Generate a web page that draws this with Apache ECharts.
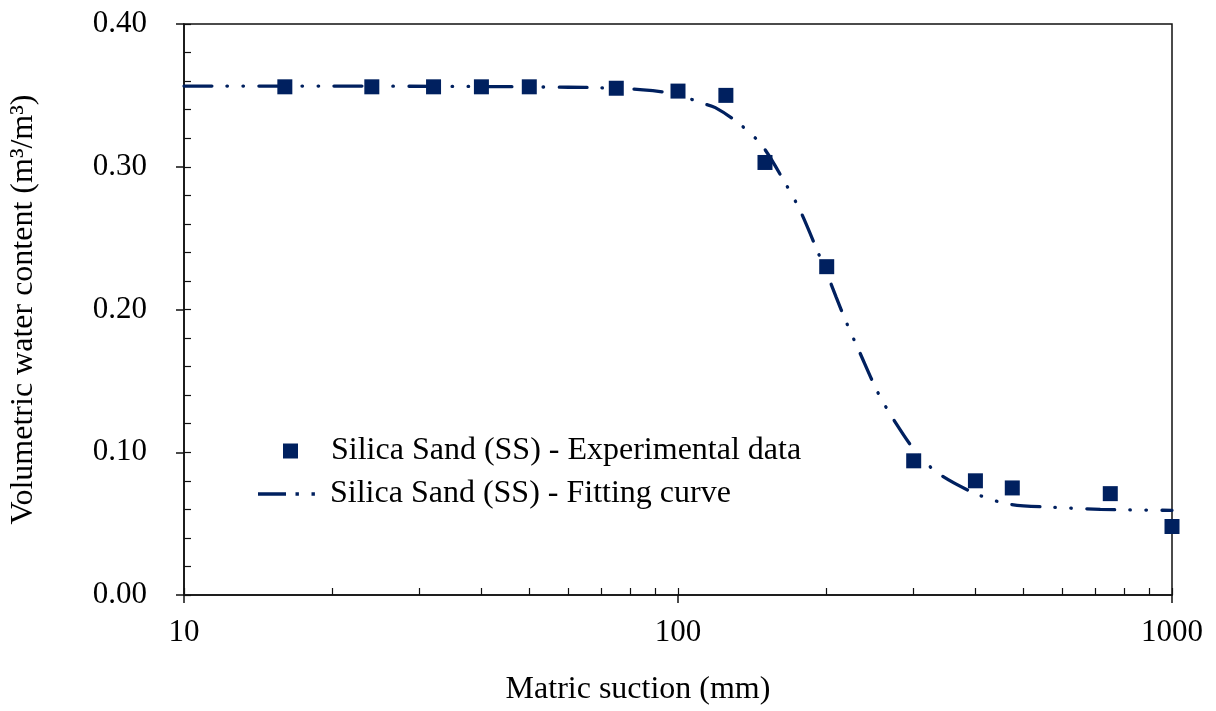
<!DOCTYPE html>
<html>
<head>
<meta charset="utf-8">
<script src="https://cdn.jsdelivr.net/npm/echarts@6/dist/echarts.min.js"></script>
<style>
html,body{margin:0;padding:0;background:#fff;}
#chart{width:1216px;height:711px;}
</style>
</head>
<body>
<div id="chart"></div>
<script>
// ---- data ----
const expName = 'Silica Sand (SS) - Experimental data';
const fitName = 'Silica Sand (SS) - Fitting curve';
const expSuction = [16, 24, 32, 40, 50, 75, 100, 125, 150, 200, 300, 400, 475, 750, 1000];
const expTheta   = [0.356, 0.356, 0.356, 0.356, 0.356, 0.355, 0.353, 0.350, 0.303, 0.230, 0.094, 0.080, 0.075, 0.071, 0.048];
const fitSuction = [10, 20, 40, 60, 70, 85, 95, 103, 111, 119, 133, 148, 165, 177, 192, 203, 209, 219, 233, 254, 274, 306, 341, 408, 471, 578, 716, 1000];
const fitTheta   = [0.3565, 0.3565, 0.3562, 0.3557, 0.3553, 0.3539, 0.352, 0.349, 0.3449, 0.3414, 0.3302, 0.3148, 0.2883, 0.2688, 0.2401, 0.2199, 0.2087, 0.1913, 0.1703, 0.1417, 0.1222, 0.0984, 0.0838, 0.0698, 0.0635, 0.0614, 0.0600, 0.0593];
const xMajorTicks = [10, 100, 1000];
const xMinorTicks = [20, 30, 40, 50, 60, 70, 80, 90, 200, 300, 400, 500, 600, 700, 800, 900];

const navy = '#00205F';
const font = 'Liberation Serif';

const expData = expSuction.map((x, i) => [x, expTheta[i]]);
const fitData = fitSuction.map((x, i) => [x, fitTheta[i]]);
const minorLogPos = xMajorTicks.concat(xMinorTicks).map(v => Math.log10(v));

// legend glyph for the dash-dot-dot line
const fitIcon = 'path://M0,0M57,14M0,5.3h28v3.4h-28zM37.5,5.3h3.4v3.4h-3.4zM53.5,5.3h3.4v3.4h-3.4z';

const chart = echarts.init(document.getElementById('chart'));
chart.setOption({
  animation: false,
  backgroundColor: '#fff',
  grid: {left: 180, right: 44, top: 24, bottom: 115, show: true, borderColor: '#111', borderWidth: 1.5, backgroundColor: 'transparent'},
  legend: [
    {
      data: [expName], left: 278, top: 430, icon: 'rect', itemWidth: 15, itemHeight: 15,
      textStyle: {fontFamily: font, fontSize: 32, color: '#000', padding: [0, 0, 0, 28]},
      selectedMode: false
    },
    {
      data: [{name: fitName, icon: fitIcon}], left: 253, top: 473, itemWidth: 57, itemHeight: 14,
      textStyle: {fontFamily: font, fontSize: 32, color: '#000', padding: [0, 0, 0, 10]},
      selectedMode: false
    }
  ],
  xAxis: [
    {
      type: 'log', logBase: 10, min: 10, max: 1000, position: 'bottom',
      name: 'Matric suction (mm)', nameLocation: 'middle', nameGap: 79,
      nameTextStyle: {fontFamily: font, fontSize: 32, color: '#000', padding: [0, 80, 0, 0]},
      axisLine: {show: true, lineStyle: {color: '#111', width: 1.6}},
      axisTick: {show: true, inside: false, length: 8, lineStyle: {color: '#111', width: 1.5}},
      axisLabel: {fontFamily: font, fontSize: 31, color: '#000', margin: 22, formatter: v => String(Math.round(v))},
      splitLine: {show: false},
      minorTick: {show: false}
    },
    {
      type: 'value', min: 1, max: 3, position: 'bottom',
      axisLine: {show: false},
      axisTick: {show: true, inside: true, length: 7, customValues: minorLogPos, lineStyle: {color: '#111', width: 1.2}},
      axisLabel: {show: false},
      splitLine: {show: false}
    }
  ],
  yAxis: [
    {
      type: 'value', min: 0, max: 0.4, interval: 0.1, position: 'left',
      name: 'Volumetric water content (m³/m³)', nameLocation: 'middle', nameGap: 144,
      nameTextStyle: {fontFamily: font, fontSize: 32, color: '#000'},
      axisLine: {show: true, lineStyle: {color: '#111', width: 1.6}},
      axisTick: {show: true, inside: false, length: 8, lineStyle: {color: '#111', width: 1.5}},
      axisLabel: {fontFamily: font, fontSize: 31, color: '#000', margin: 37, formatter: v => v.toFixed(2)},
      splitLine: {show: false}
    },
    {
      type: 'value', min: 0, max: 0.4, interval: 0.02, position: 'left',
      axisLine: {show: false},
      axisTick: {show: true, inside: true, length: 7, lineStyle: {color: '#111', width: 1.2}},
      axisLabel: {show: false},
      splitLine: {show: false}
    }
  ],
  series: [
    {
      name: fitName, type: 'line', data: fitData, smooth: 0.3, symbol: 'none',
      xAxisIndex: 0, yAxisIndex: 0,
      lineStyle: {color: navy, width: 3.3, type: [28, 15, 0.5, 15.5, 0.5, 15.5], cap: 'round'},
      itemStyle: {color: navy}, z: 2
    },
    {
      name: expName, type: 'scatter', data: expData, symbol: 'rect', symbolSize: 15,
      xAxisIndex: 0, yAxisIndex: 0,
      itemStyle: {color: navy, opacity: 1}, z: 3
    }
  ]
});
</script>
</body>
</html>
